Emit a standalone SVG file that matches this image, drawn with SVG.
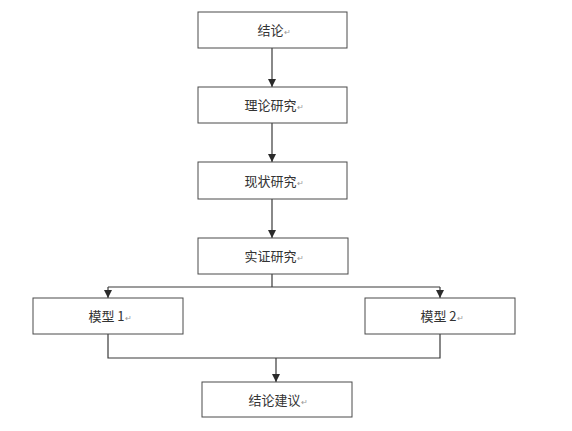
<svg xmlns="http://www.w3.org/2000/svg" width="572" height="431" viewBox="0 0 572 431">
<defs>
<style>
.box{fill:#fff;stroke:#4a4a4a;stroke-width:1}
.lbl{font-family:"Noto Sans CJK SC","Liberation Sans",sans-serif;font-size:13px;fill:#333;text-anchor:middle}
.pm{font-size:8px;fill:#999}
.ln{fill:none;stroke:#3a3a3a;stroke-width:1.2}
</style>
<marker id="ah" markerWidth="8" markerHeight="8" refX="8" refY="4" orient="auto" markerUnits="userSpaceOnUse">
<path d="M0,0 L8,4 L0,8 Z" fill="#2a2a2a"/>
</marker>
</defs>
<rect width="572" height="431" fill="#fff"/>
<g id="connectors">
<line class="ln" x1="272" y1="48" x2="272" y2="87" marker-end="url(#ah)"/>
<line class="ln" x1="272" y1="123" x2="272" y2="162" marker-end="url(#ah)"/>
<line class="ln" x1="272" y1="199" x2="272" y2="238" marker-end="url(#ah)"/>
<polyline class="ln" points="272,274 272,287"/>
<polyline class="ln" points="108,287 440,287"/>
<line class="ln" x1="108" y1="287" x2="108" y2="298" marker-end="url(#ah)"/>
<line class="ln" x1="440" y1="287" x2="440" y2="298" marker-end="url(#ah)"/>
<polyline class="ln" points="108,334 108,358 440,358 440,334"/>
<line class="ln" x1="276" y1="358" x2="276" y2="382" marker-end="url(#ah)"/>
</g>
<g id="n1"><rect class="box" x="198" y="12" width="149" height="36"/><text class="lbl" x="274" y="35">结论<tspan class="pm">↵</tspan></text></g>
<g id="n2"><rect class="box" x="198" y="87" width="149" height="36"/><text class="lbl" x="274" y="110">理论研究<tspan class="pm">↵</tspan></text></g>
<g id="n3"><rect class="box" x="198" y="162" width="149" height="37"/><text class="lbl" x="274" y="186">现状研究<tspan class="pm">↵</tspan></text></g>
<g id="n4"><rect class="box" x="198" y="238" width="150" height="36"/><text class="lbl" x="274" y="261">实证研究<tspan class="pm">↵</tspan></text></g>
<g id="n5"><rect class="box" x="33" y="298" width="150" height="36"/><text class="lbl" x="110" y="321">模型 1<tspan class="pm">↵</tspan></text></g>
<g id="n6"><rect class="box" x="365" y="298" width="150" height="36"/><text class="lbl" x="442" y="321">模型 2<tspan class="pm">↵</tspan></text></g>
<g id="n7"><rect class="box" x="202" y="382" width="150" height="35"/><text class="lbl" x="278" y="405">结论建议<tspan class="pm">↵</tspan></text></g>
</svg>
